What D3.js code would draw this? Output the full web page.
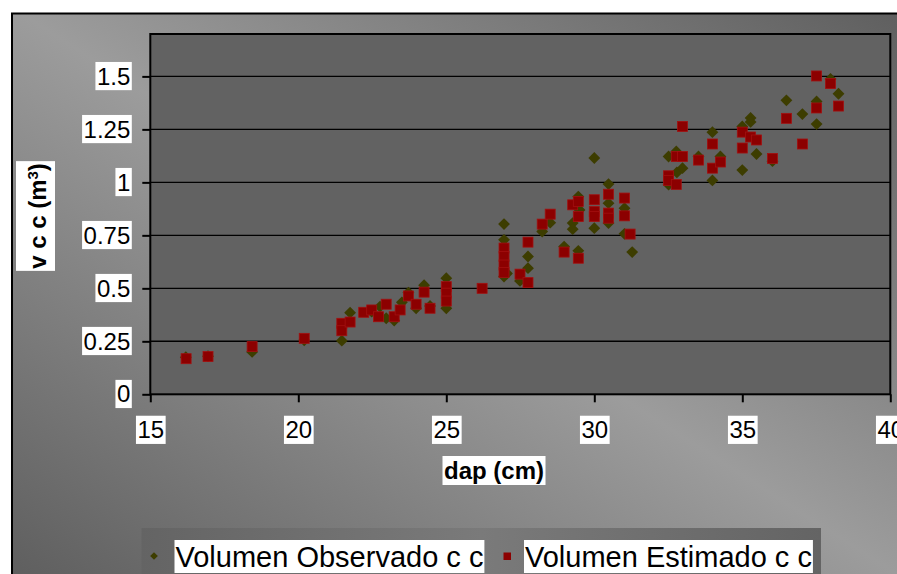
<!DOCTYPE html>
<html>
<head>
<meta charset="utf-8">
<script src="https://cdn.jsdelivr.net/npm/d3@7"></script>
<style>
  html, body { margin: 0; padding: 0; background: #fff; }
  svg { display: block; font-family: "Liberation Sans", Arial, sans-serif; }
</style>
</head>
<body>
<svg id="chart" width="897" height="574"></svg>
<script>
// Volumen observado vs estimado (v c c) por dap — scatter, Excel-like styling.
var xTicks = [15, 20, 25, 30, 35, 40];
var yTicks = [0, 0.25, 0.5, 0.75, 1, 1.25, 1.5];
var seriesNames = ["Volumen Observado c c", "Volumen Estimado c c"];

// observed (diamonds)
var obsDap = [16.2, 16.95, 18.44, 20.2, 21.47, 21.75, 22.48, 22.76, 22.97, 23.24,
  23.5, 23.72, 23.98, 24.25, 24.45, 25.0, 25.0, 26.95, 26.95, 26.95,
  27.05, 27.49, 27.76, 27.76, 28.24, 28.51, 28.98, 29.27, 29.27, 29.46,
  29.46, 29.5, 30.0, 30.0, 30.48, 30.48, 30.48, 31.02, 31.02, 31.28,
  32.51, 32.51, 32.77, 32.79, 32.98, 33.52, 33.99, 33.99, 34.26, 35.0,
  35.0, 35.28, 35.28, 35.48, 36.02, 36.49, 37.03, 37.51, 37.51, 37.98, 38.25];
var obsVol = [0.175, 0.18, 0.2, 0.255, 0.253, 0.385, 0.39, 0.414, 0.359, 0.348,
  0.434, 0.48, 0.406, 0.515, 0.417, 0.548, 0.406, 0.803, 0.729, 0.556,
  0.57, 0.535, 0.65, 0.595, 0.768, 0.81, 0.697, 0.808, 0.779, 0.933,
  0.677, 0.87, 1.115, 0.784, 0.992, 0.902, 0.808, 0.878, 0.757, 0.671,
  1.122, 0.989, 1.146, 1.047, 1.067, 1.122, 1.237, 1.009, 1.122, 1.264,
  1.058, 1.304, 1.285, 1.134, 1.10, 1.387, 1.322, 1.382, 1.275, 1.488, 1.418];

// estimated (squares)
var estDap = [16.21, 16.95, 18.44, 20.2, 21.47, 21.47, 21.75, 22.21, 22.48, 22.71,
  22.97, 23.24, 23.44, 23.72, 23.98, 24.25, 24.45, 25.0, 25.0, 25.0,
  26.21, 26.95, 26.95, 26.95, 26.95, 27.49, 27.76, 27.76, 28.24, 28.51,
  28.98, 29.27, 29.46, 29.46, 29.46, 30.0, 30.0, 30.0, 30.48, 30.48,
  30.48, 31.02, 31.02, 31.21, 32.51, 32.51, 32.77, 32.77, 32.98, 32.98,
  33.52, 33.99, 33.99, 34.26, 35.0, 35.0, 35.28, 35.48, 36.02, 36.49,
  37.03, 37.51, 37.51, 37.98, 38.25];
var estVol = [0.168, 0.178, 0.225, 0.264, 0.335, 0.30, 0.341, 0.387, 0.398, 0.366,
  0.425, 0.366, 0.398, 0.464, 0.425, 0.482, 0.406, 0.508, 0.477, 0.44,
  0.50, 0.69, 0.65, 0.61, 0.575, 0.567, 0.718, 0.527, 0.803, 0.85,
  0.671, 0.894, 0.91, 0.839, 0.642, 0.918, 0.862, 0.839, 0.944, 0.855,
  0.831, 0.926, 0.842, 0.756, 1.031, 1.009, 1.122, 0.99, 1.122, 1.264,
  1.105, 1.181, 1.067, 1.096, 1.237, 1.162, 1.214, 1.2, 1.113, 1.302,
  1.181, 1.502, 1.351, 1.466, 1.36];

var COL = { obs: "#3d3d00", est: "#8c0000", estEdge: "#a31010", plot: "#626262" };
var P = { l: 150.3, r: 890.3, t: 34, b: 394.3 };

var svg = d3.select("#chart");
var defs = svg.append("defs");

// chart area background: light band along the top-left -> bottom-right diagonal
var bg = defs.append("linearGradient").attr("id", "bgGrad")
  .attr("gradientUnits", "userSpaceOnUse")
  .attr("x1", 188).attr("y1", 694).attr("x2", 709).attr("y2", -120);
bg.append("stop").attr("offset", 0).attr("stop-color", "#5e5e5e");
bg.append("stop").attr("offset", 0.5).attr("stop-color", "#9c9c9c");
bg.append("stop").attr("offset", 1).attr("stop-color", "#5e5e5e");

var lg = defs.append("linearGradient").attr("id", "legGrad")
  .attr("x1", 0).attr("y1", 0).attr("x2", 1).attr("y2", 0);
lg.append("stop").attr("offset", 0).attr("stop-color", "#646464");
lg.append("stop").attr("offset", 0.5).attr("stop-color", "#7a7a7a");
lg.append("stop").attr("offset", 1).attr("stop-color", "#646464");

svg.append("rect").attr("x", 12).attr("y", 13.5).attr("width", 900).attr("height", 600)
  .attr("fill", "url(#bgGrad)").attr("stroke", "#000").attr("stroke-width", 2);

var x = d3.scaleLinear().domain([15, 40]).range([P.l, P.r]);
var y = d3.scaleLinear().domain([0, 1.7]).range([P.b, P.t]);

// plot area
svg.append("rect").attr("x", P.l).attr("y", P.t)
  .attr("width", P.r - P.l).attr("height", P.b - P.t).attr("fill", COL.plot);

svg.append("g").selectAll("line").data(yTicks.filter(function (d) { return d > 0; }))
  .enter().append("line")
  .attr("x1", P.l).attr("x2", P.r)
  .attr("y1", function (d) { return y(d); }).attr("y2", function (d) { return y(d); })
  .attr("stroke", "#000").attr("stroke-width", 1.4);

svg.append("rect").attr("x", P.l).attr("y", P.t)
  .attr("width", P.r - P.l).attr("height", P.b - P.t)
  .attr("fill", "none").attr("stroke", "#000").attr("stroke-width", 2);

// points
var diamond = d3.symbol(d3.symbolSquare).size(70)();
svg.append("g").selectAll("path").data(d3.range(obsDap.length)).enter().append("path")
  .attr("d", diamond)
  .attr("transform", function (i) {
    return "translate(" + x(obsDap[i]) + "," + y(obsVol[i]) + ") rotate(45)";
  })
  .attr("fill", COL.obs);

svg.append("g").selectAll("rect").data(d3.range(estDap.length)).enter().append("rect")
  .attr("x", function (i) { return x(estDap[i]) - 5; })
  .attr("y", function (i) { return y(estVol[i]) - 5; })
  .attr("width", 10).attr("height", 10)
  .attr("fill", COL.est).attr("stroke", COL.estEdge).attr("stroke-width", 0.8);

// white boxes behind texts
function boxUnder(sel, px, py) {
  sel.each(function () {
    var b = this.getBBox(), node = this;
    d3.select(this.parentNode).insert("rect", function () { return node; })
      .attr("x", b.x - px).attr("y", b.y - py)
      .attr("width", b.width + 2 * px).attr("height", b.height + 2 * py)
      .attr("fill", "#fff");
  });
}

// axes
var ax = svg.append("g").attr("transform", "translate(0," + P.b + ")")
  .call(d3.axisBottom(x).tickValues(xTicks).tickSize(8).tickPadding(19)
    .tickFormat(function (d) { return String(d); }));
var ay = svg.append("g").attr("transform", "translate(" + P.l + ",0)")
  .call(d3.axisLeft(y).tickValues(yTicks).tickSize(8).tickPadding(12)
    .tickFormat(function (d) { return String(d); }));
[ax, ay].forEach(function (a) {
  a.select(".domain").remove();
  a.selectAll("line").attr("stroke", "#000").attr("stroke-width", 2);
  a.selectAll("text").attr("fill", "#000")
    .style("font-size", "24px").style("font-family", "'Liberation Sans', Arial, sans-serif");
  boxUnder(a.selectAll("text"), 1.5, 0.6);
});

// axis titles
var xt = svg.append("g").attr("transform", "translate(494,479)");
xt.append("text").attr("text-anchor", "middle")
  .style("font-size", "24px").style("font-weight", "bold").text("dap (cm)");
boxUnder(xt.selectAll("text"), 1.5, 1);

var yt = svg.append("g").attr("transform", "translate(46,216) rotate(-90)");
var ytx = yt.append("text").attr("text-anchor", "middle")
  .style("font-size", "24px").style("font-weight", "bold");
ytx.append("tspan").text("v c c (m");
ytx.append("tspan").attr("baseline-shift", "super").style("font-size", "15px").text("3");
ytx.append("tspan").text(")");
yt.selectAll("text").each(function () {
  var b = this.getBBox(), node = this;
  // box runs from x=16 to x=55 on screen (local y from -30 to 9)
  yt.insert("rect", function () { return node; })
    .attr("x", b.x - 2).attr("y", -30).attr("width", b.width + 4).attr("height", 39)
    .attr("fill", "#fff");
});

// legend
var leg = svg.append("g");
leg.append("rect").attr("x", 141.5).attr("y", 528).attr("width", 679.5).attr("height", 60)
  .attr("fill", "url(#legGrad)");
leg.append("path").attr("d", d3.symbol(d3.symbolSquare).size(30)())
  .attr("transform", "translate(154,556) rotate(45)").attr("fill", COL.obs);
leg.append("rect").attr("x", 503.5).attr("y", 552.5).attr("width", 7.5).attr("height", 7.5)
  .attr("fill", COL.est);
var legText = leg.selectAll("text.lt").data(seriesNames).enter().append("text")
  .attr("class", "lt")
  .attr("x", function (d, i) { return i === 0 ? 175.5 : 525; })
  .attr("y", 566.5)
  .style("font-size", "29px").attr("fill", "#000")
  .text(function (d) { return d; });
boxUnder(legText, 1, 0.5);
</script>
</body>
</html>
